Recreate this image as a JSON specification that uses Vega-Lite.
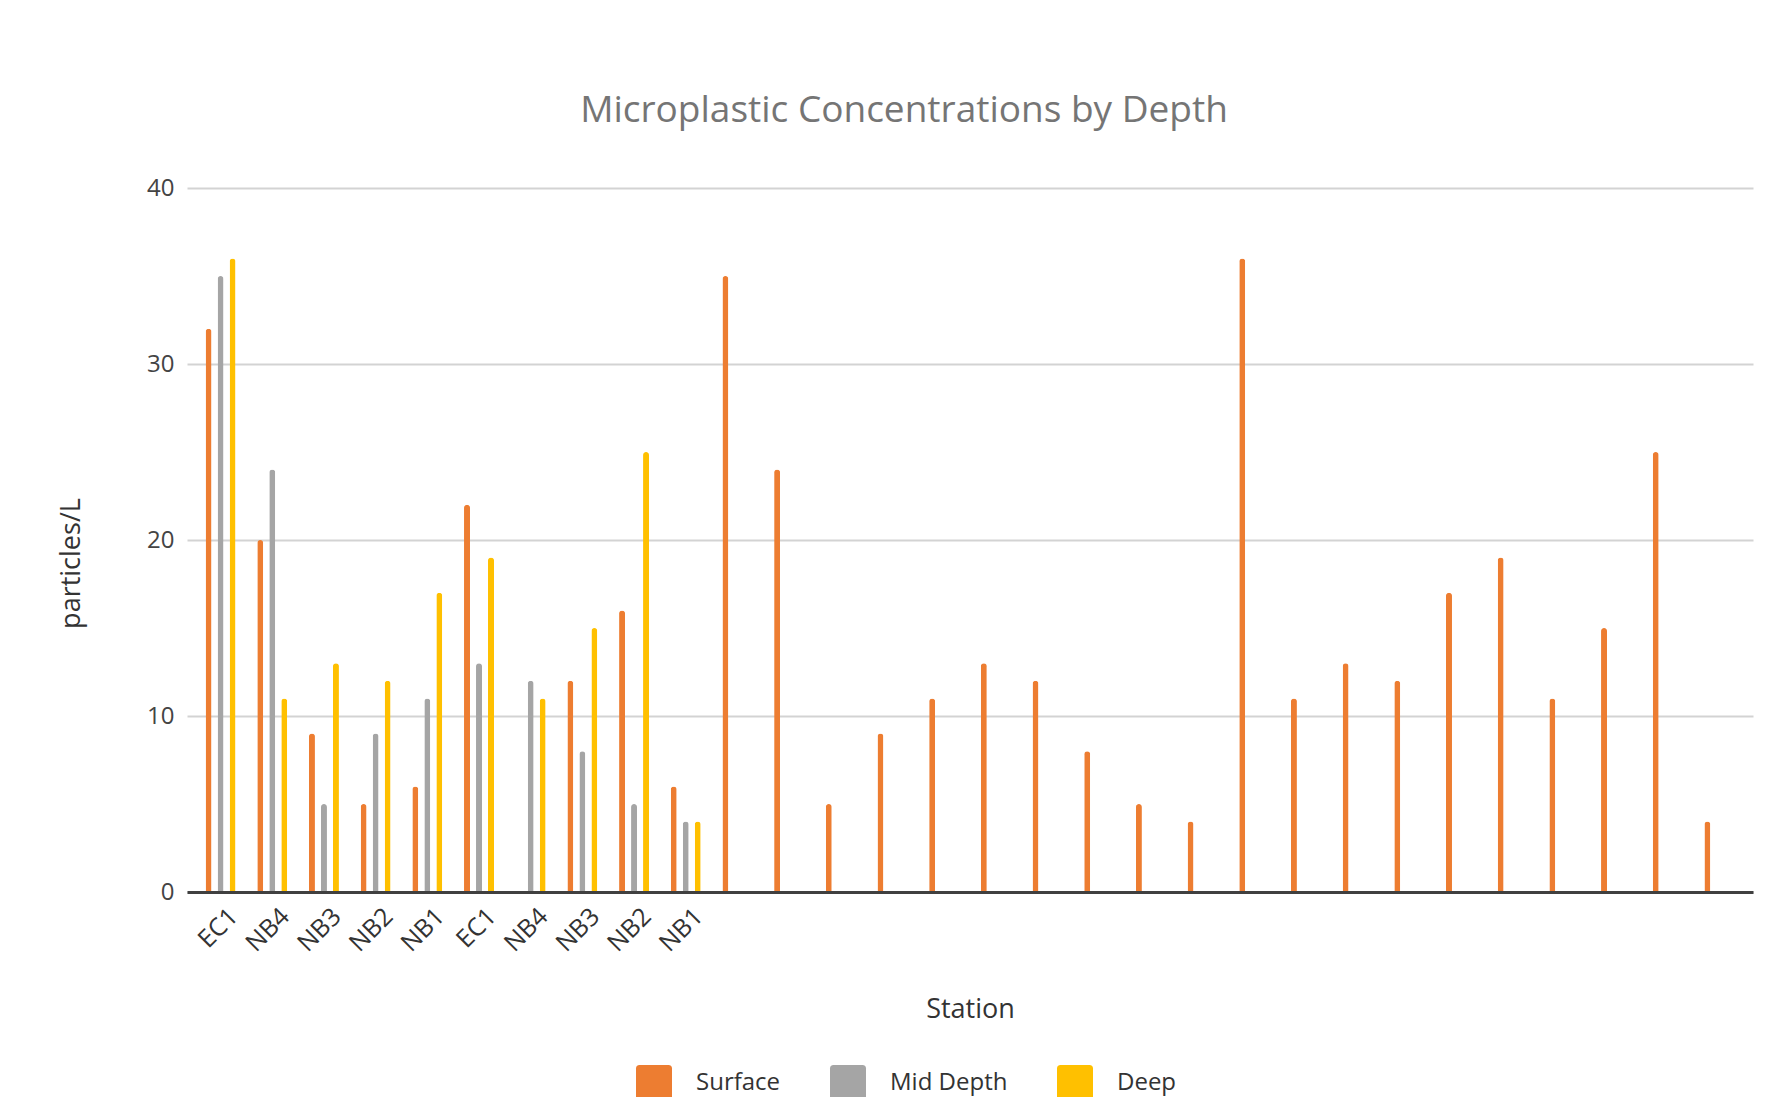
{
  "$schema": "https://vega.github.io/schema/vega-lite/v6.json",
  "autosize": "none",
  "width": 1566,
  "height": 704,
  "padding": {"left": 187, "top": 188, "right": 31, "bottom": 205},
  "background": "white",
  "config": {"view": {"stroke": null}, "font": "Open Sans"},
  "title": {
    "text": "Microplastic Concentrations by Depth",
    "font": "Open Sans",
    "fontSize": 37,
    "fontWeight": "normal",
    "color": "#757575",
    "anchor": "middle",
    "dx": -66,
    "offset": 46
  },
  "data": {
    "values": [
      {"slot": "EC1|1", "depth": "Surface", "value": 32},
      {"slot": "EC1|1", "depth": "Mid Depth", "value": 35},
      {"slot": "EC1|1", "depth": "Deep", "value": 36},
      {"slot": "NB4|2", "depth": "Surface", "value": 20},
      {"slot": "NB4|2", "depth": "Mid Depth", "value": 24},
      {"slot": "NB4|2", "depth": "Deep", "value": 11},
      {"slot": "NB3|3", "depth": "Surface", "value": 9},
      {"slot": "NB3|3", "depth": "Mid Depth", "value": 5},
      {"slot": "NB3|3", "depth": "Deep", "value": 13},
      {"slot": "NB2|4", "depth": "Surface", "value": 5},
      {"slot": "NB2|4", "depth": "Mid Depth", "value": 9},
      {"slot": "NB2|4", "depth": "Deep", "value": 12},
      {"slot": "NB1|5", "depth": "Surface", "value": 6},
      {"slot": "NB1|5", "depth": "Mid Depth", "value": 11},
      {"slot": "NB1|5", "depth": "Deep", "value": 17},
      {"slot": "EC1|6", "depth": "Surface", "value": 22},
      {"slot": "EC1|6", "depth": "Mid Depth", "value": 13},
      {"slot": "EC1|6", "depth": "Deep", "value": 19},
      {"slot": "NB4|7", "depth": "Mid Depth", "value": 12},
      {"slot": "NB4|7", "depth": "Deep", "value": 11},
      {"slot": "NB3|8", "depth": "Surface", "value": 12},
      {"slot": "NB3|8", "depth": "Mid Depth", "value": 8},
      {"slot": "NB3|8", "depth": "Deep", "value": 15},
      {"slot": "NB2|9", "depth": "Surface", "value": 16},
      {"slot": "NB2|9", "depth": "Mid Depth", "value": 5},
      {"slot": "NB2|9", "depth": "Deep", "value": 25},
      {"slot": "NB1|10", "depth": "Surface", "value": 6},
      {"slot": "NB1|10", "depth": "Mid Depth", "value": 4},
      {"slot": "NB1|10", "depth": "Deep", "value": 4},
      {"slot": "|11", "depth": "Surface", "value": 35},
      {"slot": "|12", "depth": "Surface", "value": 24},
      {"slot": "|13", "depth": "Surface", "value": 5},
      {"slot": "|14", "depth": "Surface", "value": 9},
      {"slot": "|15", "depth": "Surface", "value": 11},
      {"slot": "|16", "depth": "Surface", "value": 13},
      {"slot": "|17", "depth": "Surface", "value": 12},
      {"slot": "|18", "depth": "Surface", "value": 8},
      {"slot": "|19", "depth": "Surface", "value": 5},
      {"slot": "|20", "depth": "Surface", "value": 4},
      {"slot": "|21", "depth": "Surface", "value": 36},
      {"slot": "|22", "depth": "Surface", "value": 11},
      {"slot": "|23", "depth": "Surface", "value": 13},
      {"slot": "|24", "depth": "Surface", "value": 12},
      {"slot": "|25", "depth": "Surface", "value": 17},
      {"slot": "|26", "depth": "Surface", "value": 19},
      {"slot": "|27", "depth": "Surface", "value": 11},
      {"slot": "|28", "depth": "Surface", "value": 15},
      {"slot": "|29", "depth": "Surface", "value": 25},
      {"slot": "|30", "depth": "Surface", "value": 4}
    ]
  },
  "mark": {"type": "bar", "width": 6, "cornerRadiusEnd": 3},
  "encoding": {
    "x": {
      "field": "slot",
      "type": "nominal",
      "sort": null,
      "scale": {"paddingInner": 0, "paddingOuter": 0.15},
      "axis": {
        "zindex": 1,
        "domainColor": "#404040",
        "domainWidth": 3,
        "ticks": false,
        "grid": false,
        "labelAngle": -45,
        "labelAlign": "right",
        "labelBaseline": "middle",
        "labelFontSize": 25,
        "labelColor": "#333333",
        "labelPadding": 20,
        "labelOffset": 13,
        "labelOverlap": false,
        "labelExpr": "split(datum.value, '|')[0]",
        "title": "Station",
        "titleFontSize": 27,
        "titleFontWeight": "normal",
        "titleColor": "#333333",
        "titleY": 117,
        "titleBaseline": "middle"
      }
    },
    "xOffset": {
      "field": "depth",
      "type": "nominal",
      "sort": ["Surface", "Mid Depth", "Deep"],
      "scale": {"paddingInner": 0, "paddingOuter": 0.654}
    },
    "y": {
      "field": "value",
      "type": "quantitative",
      "scale": {"domain": [0, 40], "nice": false},
      "axis": {
        "values": [0, 10, 20, 30, 40],
        "grid": true,
        "gridColor": "#d3d3d3",
        "gridWidth": 2,
        "domain": false,
        "ticks": false,
        "labelFontSize": 24,
        "labelColor": "#444444",
        "labelPadding": 13,
        "title": "particles/L",
        "titleFontSize": 27,
        "titleFontWeight": "normal",
        "titleColor": "#333333",
        "titleX": -116,
        "titleY": 375,
        "titleAlign": "center",
        "titleBaseline": "middle"
      }
    },
    "color": {
      "field": "depth",
      "type": "nominal",
      "scale": {"domain": ["Surface", "Mid Depth", "Deep"], "range": ["#ed7d31", "#a5a5a5", "#ffc000"]},
      "legend": {
        "orient": "none",
        "legendX": 449,
        "legendY": 877,
        "direction": "horizontal",
        "title": null,
        "padding": 0,
        "symbolType": "M-1,-0.8Q-1,-1,-0.8,-1L0.8,-1Q1,-1,1,-0.8L1,0.8Q1,1,0.8,1L-0.8,1Q-1,1,-1,0.8Z",
        "symbolSize": 1296,
        "symbolStrokeWidth": 0,
        "labelFontSize": 24,
        "labelColor": "#333333",
        "labelOffset": 24,
        "columnPadding": 49
      }
    }
  }
}
